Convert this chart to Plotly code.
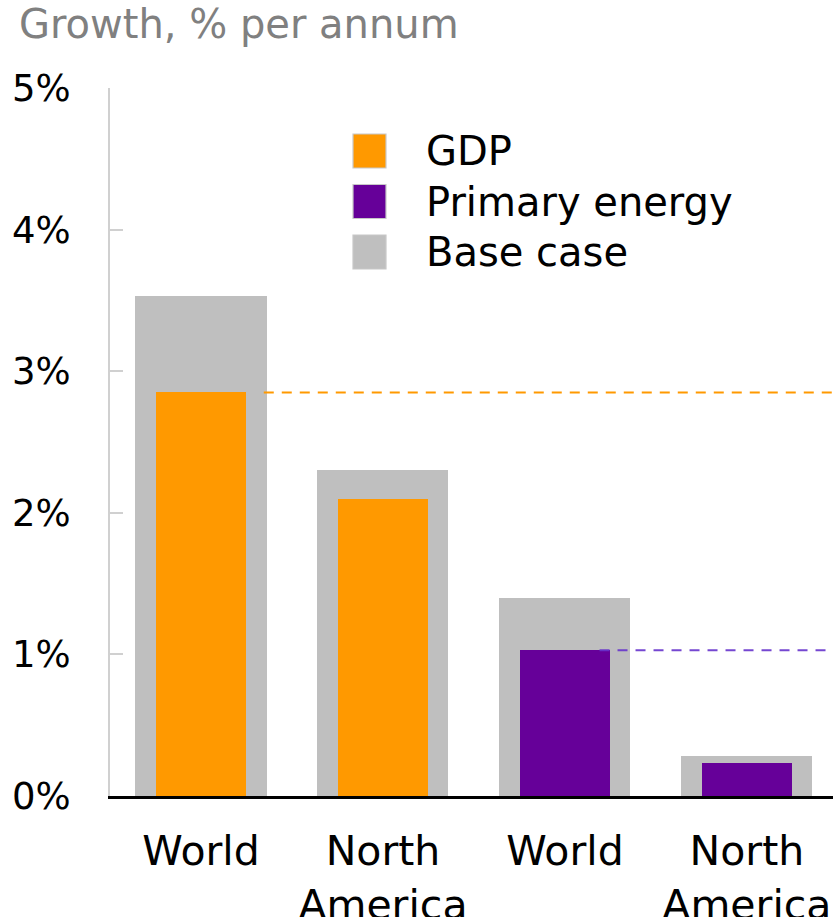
import plotly.graph_objects as go

# ---- data ----
categories = ["World", "North<br>America", "World", "North<br>America"]
base_case = [3.53, 2.30, 1.40, 0.28]
gdp = [2.85, 2.10, None, None]
primary_energy = [None, None, 1.03, 0.23]
y_ticks = [0, 1, 2, 3, 4, 5]
y_tick_labels = ["0%", "1%", "2%", "3%", "4%", "5%"]
legend_names = ["GDP", "Primary energy", "Base case"]

# ---- style ----
ORANGE = "#FF9900"
PURPLE = "#660099"
GREY = "#BFBFBF"
FONT = "DejaVu Sans, Liberation Sans, Arial, sans-serif"
W, H = 833, 917
ML, MR, MT, MB = 110, 0, 88, 121

xs = list(range(len(categories)))
x_max = 3.473

fig = go.Figure()
fig.add_trace(go.Bar(x=xs, y=base_case, width=0.72, marker=dict(color=GREY, line=dict(width=0)),
                     name="Base case", showlegend=False))
fig.add_trace(go.Bar(x=xs, y=gdp, width=0.49, marker=dict(color=ORANGE, line=dict(width=0)),
                     name="GDP", showlegend=False))
fig.add_trace(go.Bar(x=xs, y=primary_energy, width=0.49, marker=dict(color=PURPLE, line=dict(width=0)),
                     name="Primary energy", showlegend=False))

# dashed reference lines from the World values
fig.add_trace(go.Scatter(x=[xs[0] + 0.345, x_max], y=[gdp[0], gdp[0]], mode="lines",
                         line=dict(color=ORANGE, width=2, dash="10px,8px"),
                         showlegend=False, hoverinfo="skip", cliponaxis=False))
fig.add_trace(go.Scatter(x=[xs[2] + 0.19, x_max], y=[primary_energy[2], primary_energy[2]], mode="lines",
                         line=dict(color="rgba(102,51,204,0.9)", width=2, dash="10px,8px"),
                         showlegend=False, hoverinfo="skip", cliponaxis=False))

pw, ph = W - ML - MR, H - MT - MB
def px(xp):
    return (xp - ML) / pw
def py(yp):
    return (H - MB - yp) / ph

legend_colors = [ORANGE, PURPLE, GREY]
shapes, annotations = [], []
for i, (nm, col) in enumerate(zip(legend_names, legend_colors)):
    cy = 151 + i * 50.5
    shapes.append(dict(type="rect", xref="paper", yref="paper",
                       x0=px(353), x1=px(386), y0=py(cy - 17), y1=py(cy + 17),
                       fillcolor=col, line=dict(color="#C8C8C8", width=1.2), layer="above"))
    annotations.append(dict(text=nm, xref="paper", yref="paper", x=px(424), y=py(cy),
                            xanchor="left", yanchor="middle", showarrow=False,
                            font=dict(family=FONT, size=40, color="black")))

fig.update_layout(
    width=W, height=H,
    margin=dict(l=ML, r=MR, t=MT, b=MB, autoexpand=False),
    paper_bgcolor="white", plot_bgcolor="white",
    barmode="overlay", bargap=0,
    title=dict(text="Growth, % per annum", x=19 / W, xanchor="left", xref="container",
               y=1 - 24 / H, yanchor="middle", yref="container", pad=dict(l=0, r=0, t=0, b=0),
               font=dict(family=FONT, size=40, color="#808080")),
    shapes=shapes, annotations=annotations,
    showlegend=False,
    xaxis=dict(range=[-0.5, x_max], tickvals=xs, ticktext=categories, showgrid=False,
               zeroline=False, showline=True, linecolor="black", linewidth=3,
               ticks="", ticklabelstandoff=17, automargin=False,
               tickfont=dict(family=FONT, size=41, color="black")),
    yaxis=dict(range=[0, 5], tickvals=y_ticks, ticktext=y_tick_labels, showgrid=False,
               zeroline=False, showline=True, linecolor="#D0D0D0", linewidth=2,
               ticks="inside", ticklen=13, tickcolor="#D0D0D0", tickwidth=2,
               ticklabelstandoff=30, automargin=False,
               tickfont=dict(family=FONT, size=37, color="black")),
)

fig.write_html("out.html", config={"displayModeBar": False},
               post_script="document.body.style.margin='0px';")
